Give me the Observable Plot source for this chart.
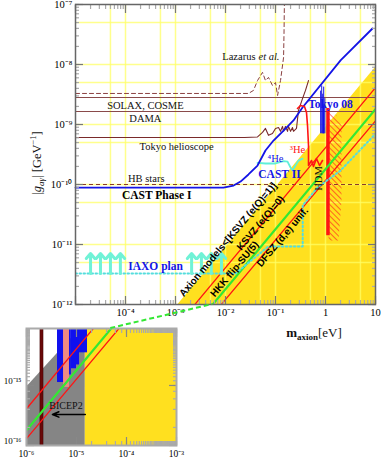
<!DOCTYPE html>
<html><head><meta charset="utf-8">
<script src="https://cdn.jsdelivr.net/npm/d3@7"></script>
<script src="https://cdn.jsdelivr.net/npm/@observablehq/plot@0.6"></script>
<style>
html,body{margin:0;padding:0;background:#fff;}
#wrap{position:relative;width:381px;height:460px;overflow:hidden;}
#wrap > svg{position:absolute;}
</style></head><body>
<svg width="0" height="0" style="position:absolute">
<defs><pattern id="hatch" patternUnits="userSpaceOnUse" width="4" height="4" patternTransform="rotate(-45)"><line x1="0" y1="0" x2="0" y2="4" stroke="#ff2020" stroke-width="1.3"/></pattern></defs></svg>
<div id="wrap"></div>
<script>
// ---------------- data ----------------
const mainXTicks = [1e-5, 1e-4, 1e-3, 1e-2, 1e-1, 1, 10];
const mainXLabelVals = [1e-4, 1e-3, 1e-2, 1e-1, 1, 10];
const mainXLabels = ["10⁻⁴", "10⁻³", "10⁻²", "10⁻¹", "1", "10"];
const mainYTicks = [1e-12, 1e-11, 1e-10, 1e-9, 1e-8, 1e-7];
const mainYLabels = ["10⁻¹²", "10⁻¹¹", "10⁻¹⁰", "10⁻⁹", "10⁻⁸", "10⁻⁷"];
const gridX = [5e-5, 1e-4, 5e-4, 1e-3, 5e-3, 1e-2, 5e-2, 1e-1, 5e-1, 1, 5];
const gridY = [5e-12, 1e-11, 5e-11, 1e-10, 5e-10, 1e-9, 5e-9, 1e-8, 5e-8];
const insetXTicks = [1e-6, 1e-5, 1e-4, 1e-3];
const insetXLabels = ["10⁻⁶", "10⁻⁵", "10⁻⁴", "10⁻³"];
const insetYTicks = [1e-16, 1e-15];
const insetYLabels = ["10⁻¹⁶", "10⁻¹⁵"];

// horizontal limits (GeV^-1)
const solaxG = 2.82e-9;
const damaG = 1.65e-9;
const hbG = 1.0e-10;

// curves [m_axion (eV), g (GeV^-1)]
const lazarus = [[1e-5,3.29e-9],[0.0288,3.29e-9],[0.0363,3.7e-9],[0.0437,5.4e-9],[0.055,7.4e-9],[0.063,5.4e-9],[0.0724,6.1e-9],[0.087,4.47e-9],[0.1,5.0e-9],[0.11,3.04e-9],[0.126,5.4e-9],[0.145,1.31e-8],[0.148,3.3e-8],[0.151,1.2e-7]];
const tokyoHelio = [[1e-5,6.07e-10],[0.024,6.07e-10],[0.0437,6.2e-10],[0.055,7.4e-10],[0.063,8.6e-10],[0.0724,6.6e-10],[0.087,7.1e-10],[0.1,8.6e-10],[0.115,8.9e-10],[0.126,7.7e-10],[0.138,9.3e-10],[0.145,7.7e-10],[0.158,9.3e-10],[0.174,7.7e-10],[0.182,9.3e-10],[0.2,7.7e-10],[0.219,8.9e-10],[0.229,7.7e-10],[0.263,8.6e-10],[0.288,1.71e-9],[0.347,2.7e-9],[0.398,3.7e-9],[0.457,5.4e-9]];
const castI = [[1e-5,8.9e-11],[9.1e-3,8.9e-11],[1.45e-2,9.6e-11],[0.02,1.12e-10],[0.0288,1.47e-10],[0.0437,2.07e-10],[0.063,3.69e-10],[0.0912,5.4e-10],[0.145,7.9e-10],[0.229,1.17e-9],[0.347,1.92e-9],[2.0,1.17e-8],[8.7,3.98e-8]];
const castII = [[0.0437,2.3e-10],[0.063,2.24e-10],[0.1,2.24e-10],[0.145,2.45e-10],[0.174,2.4e-10],[0.2,1.92e-10],[0.219,1.71e-10],[0.251,2.07e-10],[0.288,2.5e-10],[0.347,2.7e-10]];
const he3 = [[0.275,1.85e-9],[0.316,2.07e-9],[0.38,2.0e-9],[0.417,1.58e-9],[0.437,9.6e-10],[0.457,4.5e-10],[0.457,2.07e-10],[0.525,2.51e-10],[0.575,2.0e-10],[0.66,2.71e-10],[0.76,2.07e-10],[0.87,2.51e-10]];
const iaxo = [[1e-5,3.3e-12],[0.016,3.3e-12],[0.072,9.3e-12],[0.35,9.3e-12],[0.35,4.5e-11],[0.69,8.9e-11],[2.0,1.71e-10],[10,7e-10]];
const iaxoArrowM = [2e-5, 3.16e-5, 5e-5, 7.9e-5, 2.1e-3, 3.3e-3, 5.2e-3, 8.3e-3];
const iaxoArrowFrom = 3.3e-12, iaxoArrowTo = 7.1e-12;
const tokyo08Spikes = [[0.80,3.6e-9],[0.84,4.4e-9],[0.88,3.2e-9],[0.92,4.2e-9],[0.97,2.7e-9]];
const tokyo08Base = 7e-10;
const tokyo08Block = [[0.89, 0.97, 7e-10, 2.0e-9]];
const hdmRule = [[1.12, 1.4e-11, 1.85e-9]];
const hdmHatch = [[1.15,1.71e-9],[1.66,1.41e-9],[2.09,9.6e-10],[2.09,5.4e-11],[1.82,1.17e-11],[1.15,1.17e-11],[1.15,1.71e-9]];

// axion model bands / lines (shared by main plot and inset)
const yellowBand = [[1.5e-5, 1e-18, 1.33e-14], [10, 1e-18, 8.9e-9]];
const ksvzE0 = [[1e-6, 4.1e-16], [10, 4.1e-9]];
const hkk = [[1e-6, 1.8e-16], [10, 1.8e-9]];
const dfsz = [[1e-6, 1.3e-16], [10, 1.15e-9]];
const greenConnector = [[4.85e-5, 8.9e-15], [5.56e-3, 1e-12]];

// inset
const greyRegion = [[1e-6, 1e-18, 9.3e-16], [1.5e-5, 1e-18, 1.1e-14]];
const brownBar = [[1.9e-6, 2.19e-6]];
const pinkBars = [[5.5e-6, 7.24e-6, 9.3e-16]];
const blueBars = [[4.17e-6,5.5e-6,1.12e-15],[7.24e-6,7.9e-6,1.5e-15],[7.9e-6,1.0e-5,1.9e-15],[1.0e-5,1.15e-5,2.2e-15],[1.15e-5,1.66e-5,3.5e-15]];
const barTop = 1e-13;
const bicepArrow = [[1.5e-5, 3.3e-6, 3.29e-16]];

// labels [m, g, text]
const serifLabels = [[2.5e-4,2.1e-9,"SOLAX, COSME"],[2.5e-4,1.26e-9,"DAMA"],[1.05e-3,4.3e-10,"Tokyo helioscope"],[2.6e-4,1.26e-10,"HB stars"]];
const boldBlackLabels = [[4.2e-4,6.56e-11,"CAST Phase I"]];
const boldBlueLabels = [[4.0e-4,4.3e-12,"IAXO plan"],[1.26,2.15e-9,"Tokyo 08"],[0.12,1.47e-10,"CAST II"]];
const he4Label = [[0.1,2.7e-10,"⁴He"]];
const he3Label = [[0.275,3.83e-10,"³He"]];
const hdmLabel = [[0.724,1.26e-10,"HDM"]];
const lazarusLabel = [[0.0398,1.36e-8,"Lazarus"]];
const etalLabel = [[0.0457,1.36e-8,"et al."]];
const modelLabels = [[0.0112,1.21e-11,"Axion models<[KSVZ (e(Q)=1)]"],[0.05,2.28e-11,"KSVZ (e(Q)=0)"],[0.0151,3.9e-12,"HKK flip-SU(5)"],[0.138,1.33e-11,"DFSZ (d,e) unif."]];
const bicepLabel = [[6.17e-6,4.64e-16,"BICEP2"]];

// ---------------- helpers ----------------
const pts = a => a.map(([m, g]) => ({m, g}));
const band = a => a.map(([m, lo, hi]) => ({m, lo, hi}));
const lbl = a => a.map(([m, g, t]) => ({m, g, t}));
const mapOf = (v, l) => new Map(v.map((d, i) => [d, l[i]]));
const xLab = mapOf(mainXLabelVals, mainXLabels);
const yLab = mapOf(mainYTicks, mainYLabels);
const ixLab = mapOf(insetXTicks, insetXLabels);
const iyLab = mapOf(insetYTicks, insetYLabels);

const RED = "#ff1414", GREEN = "#33e833", BLUE = "#1414e6", CYAN = "#5ff0d8", BROWN = "#8a4a4a", GOLD = "#ffe01f";
const SERIF = "Liberation Serif, serif";
const SANS = "Liberation Sans, Arial, sans-serif";

function tickAxes(minorStroke, majorStroke, majorX, majorY) {
  return [
    Plot.axisX({anchor: "bottom", ticks: 60, tickSize: 4, insetBottom: 4, fill: "none", stroke: minorStroke, strokeWidth: 1.2, label: null}),
    Plot.axisX({anchor: "top", ticks: 60, tickSize: 4, insetTop: 4, fill: "none", stroke: minorStroke, strokeWidth: 1.2, label: null}),
    Plot.axisY({anchor: "left", ticks: 60, tickSize: 4, insetLeft: 4, fill: "none", stroke: minorStroke, strokeWidth: 1.2, label: null}),
    Plot.axisY({anchor: "right", ticks: 60, tickSize: 4, insetRight: 4, fill: "none", stroke: minorStroke, strokeWidth: 1.2, label: null}),
    Plot.axisX({anchor: "bottom", ticks: majorX, tickSize: 8, insetBottom: 8, fill: "none", stroke: majorStroke, strokeWidth: 1.2, label: null}),
    Plot.axisX({anchor: "top", ticks: majorX, tickSize: 8, insetTop: 8, fill: "none", stroke: majorStroke, strokeWidth: 1.2, label: null}),
    Plot.axisY({anchor: "left", ticks: majorY, tickSize: 8, insetLeft: 8, fill: "none", stroke: majorStroke, strokeWidth: 1.2, label: null}),
    Plot.axisY({anchor: "right", ticks: majorY, tickSize: 8, insetRight: 8, fill: "none", stroke: majorStroke, strokeWidth: 1.2, label: null})
  ];
}

// ---------------- main plot ----------------
const main = Plot.plot({
  width: 381, height: 460,
  marginLeft: 75, marginRight: 6, marginTop: 4, marginBottom: 156,
  style: {fontFamily: SERIF, fontSize: "10.5px", background: "transparent", overflow: "visible"},
  x: {type: "log", domain: [1e-5, 10]},
  y: {type: "log", domain: [1e-12, 1e-7]},
  marks: [
    Plot.areaY(band(yellowBand), {x: "m", y1: "lo", y2: "hi", fill: GOLD, clip: true}),
    Plot.ruleX(gridX, {stroke: "#ffff66", strokeWidth: 1.5, strokeOpacity: 0.75}),
    Plot.ruleY(gridY, {stroke: "#ffff66", strokeWidth: 1.5, strokeOpacity: 0.75}),
    Plot.ruleY([solaxG, damaG], {stroke: BROWN, strokeWidth: 1.1}),
    Plot.ruleY([hbG], {stroke: "#8a3a2a", strokeWidth: 1.1, strokeDasharray: "4,3"}),
    Plot.line(pts(lazarus), {x: "m", y: "g", stroke: "#8a4040", strokeWidth: 1, strokeDasharray: "4,3", clip: true}),
    Plot.line(pts(tokyoHelio), {x: "m", y: "g", stroke: "#7a2a2a", strokeWidth: 1.1}),
    Plot.line(pts(castII), {x: "m", y: "g", stroke: CYAN, strokeWidth: 1.8}),
    Plot.line(pts(castI), {x: "m", y: "g", stroke: BLUE, strokeWidth: 1.8}),
    Plot.line(pts(he3), {x: "m", y: "g", stroke: RED, strokeWidth: 1.6}),
    Plot.line(pts(hdmHatch), {x: "m", y: "g", fill: "url(#hatch)", stroke: "none"}),
    Plot.ruleX(hdmRule, {x: d => d[0], y1: d => d[1], y2: d => d[2], stroke: RED, strokeWidth: 3.5}),
    Plot.rect(tokyo08Block, {x1: d => d[0], x2: d => d[1], y1: d => d[2], y2: d => d[3], fill: BLUE}),
    Plot.ruleX(tokyo08Spikes, {x: d => d[0], y1: tokyo08Base, y2: d => d[1], stroke: BLUE, strokeWidth: 1}),
    Plot.line(pts(ksvzE0), {x: "m", y: "g", stroke: RED, strokeWidth: 1.3, clip: true}),
    Plot.line(pts(hkk), {x: "m", y: "g", stroke: GREEN, strokeWidth: 2.2, clip: true}),
    Plot.line(pts(dfsz), {x: "m", y: "g", stroke: RED, strokeWidth: 1.3, clip: true}),
    Plot.line(pts(iaxo), {x: "m", y: "g", stroke: "#55dddd", strokeWidth: 2, strokeDasharray: "1.5,2.5", clip: true}),
    Plot.arrow(iaxoArrowM, {x: d => d, y1: iaxoArrowFrom, y2: iaxoArrowTo, stroke: "#70f2d6", strokeWidth: 3, headLength: 6, headAngle: 80}),
    // labels
    Plot.text(lbl(serifLabels), {x: "m", y: "g", text: "t", fontFamily: SERIF, fontSize: 10.5, fill: "#111"}),
    Plot.text(lbl(lazarusLabel), {x: "m", y: "g", text: "t", fontFamily: SERIF, fontSize: 10.5, textAnchor: "end", fill: "#111"}),
    Plot.text(lbl(etalLabel), {x: "m", y: "g", text: "t", fontFamily: SERIF, fontSize: 10.5, fontStyle: "italic", textAnchor: "start", fill: "#111"}),
    Plot.text(lbl(boldBlackLabels), {x: "m", y: "g", text: "t", fontFamily: SERIF, fontSize: 11.5, fontWeight: "bold", fill: "#000"}),
    Plot.text(lbl(boldBlueLabels), {x: "m", y: "g", text: "t", fontFamily: SERIF, fontSize: 11.5, fontWeight: "bold", fill: BLUE}),
    Plot.text(lbl(he4Label), {x: "m", y: "g", text: "t", fontFamily: SERIF, fontSize: 10.5, fill: BLUE}),
    Plot.text(lbl(he3Label), {x: "m", y: "g", text: "t", fontFamily: SERIF, fontSize: 10.5, fill: RED}),
    Plot.text(lbl(hdmLabel), {x: "m", y: "g", text: "t", fontFamily: SERIF, fontSize: 10.5, rotate: -90, fill: "#111"}),
    Plot.text(lbl(modelLabels), {x: "m", y: "g", text: "t", fontFamily: SANS, fontSize: 10, fontWeight: "bold", rotate: -50, fill: "#000"}),
    // axes
    ...tickAxes("#aaa", "#777", mainXTicks, mainYTicks),
    Plot.axisX({anchor: "bottom", ticks: mainXLabelVals, tickSize: 0, tickPadding: 4, tickFormat: d => xLab.get(d) ?? "", label: null, fontSize: 10.5}),
    Plot.axisY({anchor: "left", ticks: mainYTicks, tickSize: 0, tickPadding: 3, tickFormat: d => yLab.get(d) ?? "", label: null, fontSize: 10.5}),
    Plot.frame({stroke: "#666", strokeWidth: 1.5})
  ]
});

// ---------------- inset ----------------
const insetTop = 320;
const inset = Plot.plot({
  width: 185, height: 140,
  marginLeft: 26, marginRight: 9, marginTop: 8, marginBottom: 15,
  style: {fontFamily: SERIF, fontSize: "10px", background: "transparent", overflow: "visible"},
  x: {type: "log", domain: [1e-6, 1e-3]},
  y: {type: "log", domain: [1e-16, 8.9e-15]},
  marks: [
    Plot.areaY(band(greyRegion), {x: "m", y1: "lo", y2: "hi", fill: "#858585", clip: true}),
    Plot.areaY(band(yellowBand), {x: "m", y1: "lo", y2: "hi", fill: GOLD, clip: true}),
    Plot.rect(brownBar, {x1: d => d[0], x2: d => d[1], y1: 1e-18, y2: barTop, fill: "#6a0808", stroke: "#3a0000", strokeWidth: 0.5, clip: true}),
    Plot.rect(pinkBars, {x1: d => d[0], x2: d => d[1], y1: d => d[2], y2: barTop, fill: "#f08a82", clip: true}),
    Plot.rect(blueBars, {x1: d => d[0], x2: d => d[1], y1: d => d[2], y2: barTop, fill: "#1010ee", clip: true}),
    Plot.line(pts(ksvzE0), {x: "m", y: "g", stroke: RED, strokeWidth: 1.3, clip: true}),
    Plot.line(pts(hkk), {x: "m", y: "g", stroke: GREEN, strokeWidth: 2.2, clip: true}),
    Plot.line(pts(dfsz), {x: "m", y: "g", stroke: RED, strokeWidth: 1.3, clip: true}),
    Plot.arrow(bicepArrow, {x1: d => d[0], x2: d => d[1], y: d => d[2], stroke: "#000", strokeWidth: 1.5, headLength: 7, headAngle: 45}),
    Plot.text(lbl(bicepLabel), {x: "m", y: "g", text: "t", fontFamily: SERIF, fontSize: 10, fill: "#111"}),
    ...tickAxes("#aaa", "#888", insetXTicks, insetYTicks),
    Plot.axisX({anchor: "bottom", ticks: insetXTicks, tickSize: 0, tickPadding: 5, tickFormat: d => ixLab.get(d) ?? "", label: null, fontSize: 9.5}),
    Plot.axisY({anchor: "left", ticks: insetYTicks, tickSize: 0, tickPadding: 5, dy: -4, tickFormat: d => iyLab.get(d) ?? "", label: null, fontSize: 9}),
    Plot.frame({stroke: "#aaa", strokeWidth: 2})
  ]
});

const wrap = document.getElementById("wrap");
main.style.left = "0px"; main.style.top = "0px";
inset.style.left = "0px"; inset.style.top = insetTop + "px";
wrap.appendChild(main);
wrap.appendChild(inset);

// axis titles
const ms = d3.select(main);
const yt = ms.append("text").attr("transform", "translate(41,163) rotate(-90)")
  .attr("text-anchor", "middle").attr("font-family", SERIF).attr("font-size", 12.5).attr("fill", "#111");
yt.append("tspan").text("|");
yt.append("tspan").attr("font-style", "italic").text("g");
yt.append("tspan").attr("font-style", "italic").attr("font-size", 9).attr("dy", 3).text("aγ");
yt.append("tspan").attr("dy", -3).text("| [GeV");
yt.append("tspan").attr("font-size", 8.5).attr("dy", -5).text("−1");
yt.append("tspan").attr("dy", 5).text("]");

const xt = ms.append("text").attr("x", 314).attr("y", 337).attr("text-anchor", "middle")
  .attr("font-family", SERIF).attr("font-size", 13).attr("fill", "#111");
xt.append("tspan").attr("font-weight", "bold").text("m");
xt.append("tspan").attr("font-weight", "bold").attr("font-size", 9).attr("dy", 3).text("axion");
xt.append("tspan").attr("dy", -3).text("[eV]");

// dashed green connector between inset and main plot
const sxM = main.scale("x"), syM = main.scale("y"), sxI = inset.scale("x"), syI = inset.scale("y");
const p0 = [sxI.apply(greenConnector[0][0]), insetTop + syI.apply(greenConnector[0][1])];
const p1 = [sxM.apply(greenConnector[1][0]), syM.apply(greenConnector[1][1])];
const ov = d3.select(wrap).append("svg").attr("width", 381).attr("height", 460)
  .style("left", "0px").style("top", "0px").style("pointer-events", "none");
ov.append("line").attr("x1", p0[0]).attr("y1", p0[1]).attr("x2", p1[0]).attr("y2", p1[1])
  .attr("stroke", GREEN).attr("stroke-width", 2).attr("stroke-dasharray", "5,3");
</script>
</body></html>
